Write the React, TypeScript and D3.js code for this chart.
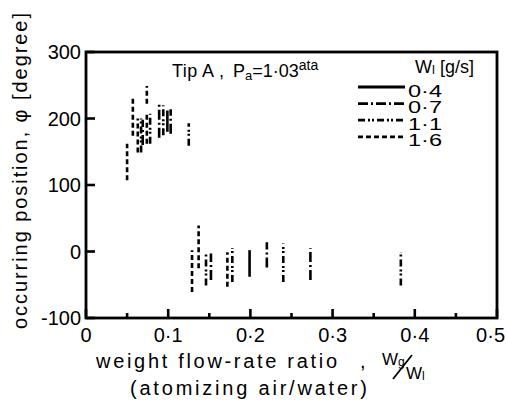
import React from "react";
import * as d3 from "d3";

// Wl series labels
const seriesLabels = ["0·4", "0·7", "1·1", "1·6"];
const seriesDash = ["none", "10,3,2,3", "7,3,2,2,2,3", "5,3"];

// segments: [x, yLow, yHigh] for each series
const segs04: [number, number, number][] = [
  [0.099, 180, 212],
  [0.199, -38, 2],
];
const segs07: [number, number, number][] = [
  [0.069, 160, 198],
  [0.089, 171, 224],
  [0.103, 177, 214],
  [0.152, -43, -3],
  [0.22, -24, 14],
  [0.273, -43, 5],
];
const segs11: [number, number, number][] = [
  [0.067, 149, 200],
  [0.078, 162, 207],
  [0.094, 175, 220],
  [0.125, 159, 193],
  [0.146, -51, -3],
  [0.178, -46, 5],
  [0.24, -46, 12],
  [0.383, -51, -1],
];
const segs16: [number, number, number][] = [
  [0.05, 107, 162],
  [0.057, 174, 231],
  [0.063, 149, 200],
  [0.074, 222, 249],
  [0.074, 162, 207],
  [0.129, -61, 2],
  [0.137, -25, 39],
  [0.172, -53, -1],
];
const allSegs = [segs04, segs07, segs11, segs16];

const xTicks = [0, 0.1, 0.2, 0.3, 0.4, 0.5];
const xMinor = [0.05, 0.15, 0.25, 0.35, 0.45];
const yTicks = [-100, 0, 100, 200, 300];

const fmtX = (v: number) => (v === 0 ? "0" : d3.format(".1f")(v).replace(".", "·"));

export default function App() {
  const W = 508, H = 408;
  const x = d3.scaleLinear().domain([0, 0.5]).range([86, 497]);
  const y = d3.scaleLinear().domain([-100, 300]).range([318, 52]);
  const font = "'Liberation Sans', Arial, sans-serif";
  const sw = 2.6;
  return (
    <svg width={W} height={H} style={{ position: "absolute", left: 0, top: 0, background: "#fff" }}
      fontFamily={font}>
      <rect x={0} y={0} width={W} height={H} fill="#fff" />
      {/* frame */}
      <rect x={x(0)} y={y(300)} width={x(0.5) - x(0)} height={y(-100) - y(300)} fill="none" stroke="#000" strokeWidth={2.8} />
      {/* x ticks */}
      {xTicks.map((t) => (
        <g key={"xt" + t}>
          <line x1={x(t)} x2={x(t)} y1={y(-100)} y2={y(-100) - 9} stroke="#000" strokeWidth={2.6} />
          <text x={t === 0.5 ? 505 : x(t)} y={342} textAnchor={t === 0.5 ? "end" : "middle"} fontSize={20}>{fmtX(t)}</text>
        </g>
      ))}
      {xMinor.map((t) => (
        <line key={"xm" + t} x1={x(t)} x2={x(t)} y1={y(-100)} y2={y(-100) - 5} stroke="#000" strokeWidth={2.6} />
      ))}
      {yTicks.map((t) => (
        <g key={"yt" + t}>
          <line x1={x(0)} x2={x(0) + 9} y1={y(t)} y2={y(t)} stroke="#000" strokeWidth={2.6} />
          <text x={81} y={y(t) + 7} textAnchor="end" fontSize={20}>{t}</text>
        </g>
      ))}
      {/* data segments */}
      {allSegs.map((arr, si) =>
        arr.map((s, i) => (
          <line key={si + "-" + i} x1={x(s[0])} x2={x(s[0])} y1={y(s[1])} y2={y(s[2])}
            stroke="#000" strokeWidth={sw} strokeDasharray={seriesDash[si]} />
        ))
      )}
      {/* title */}
      <text x={172} y={77} fontSize={18} textLength={52} lengthAdjust="spacing">Tip A ,</text>
      <text x={233} y={77} fontSize={18}>
        P<tspan fontSize={13} dy={3}>a</tspan><tspan dy={-3}>=1·03</tspan>
        <tspan fontSize={14} dy={-7}>ata</tspan>
      </text>
      {/* legend */}
      <text x={415} y={73} fontSize={18}>
        W<tspan fontSize={13} dy={1}>l</tspan><tspan dy={-1}> [g/s]</tspan>
      </text>
      {seriesLabels.map((lab, i) => {
        const ly = 87 + i * 16.6;
        return (
          <g key={"lg" + i}>
            <line x1={358} x2={405} y1={ly} y2={ly} stroke="#000" strokeWidth={2.8} strokeDasharray={seriesDash[i]} />
            <text x={408} y={ly + 9.5} fontSize={16} textLength={34} lengthAdjust="spacingAndGlyphs">{lab}</text>
          </g>
        );
      })}
      {/* y label */}
      <text transform="translate(27,171) rotate(-90)" textAnchor="middle" fontSize={20}
        textLength={316} lengthAdjust="spacing">
        occurring position, φ [degree]
      </text>
      {/* x label */}
      <text x={96} y={368} fontSize={20} textLength={241} lengthAdjust="spacing">weight flow-rate ratio</text>
      <text x={360} y={368} fontSize={20}>,</text>
      <text x={382} y={365} fontSize={17}>W<tspan fontSize={12} dy={1}>g</tspan></text>
      <line x1={393} y1={379} x2={412} y2={355} stroke="#000" strokeWidth={1.8} />
      <text x={406} y={379} fontSize={17}>W<tspan fontSize={12} dy={1}>l</tspan></text>
      <text x={130} y={395} fontSize={20} textLength={237} lengthAdjust="spacing">(atomizing air/water)</text>
    </svg>
  );
}
